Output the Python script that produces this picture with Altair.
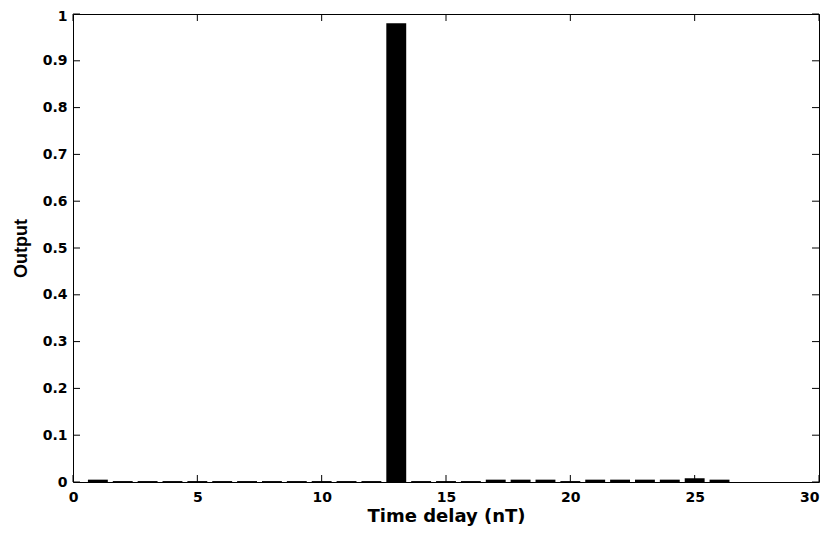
import altair as alt
import pandas as pd

# ---- data ----
delays = list(range(1, 27))
outputs = [0.005, 0.002, 0.002, 0.002, 0.002, 0.002, 0.002, 0.002, 0.002, 0.002,
           0.002, 0.002, 0.98, 0.002, 0.002, 0.002, 0.005, 0.005, 0.005, 0.002,
           0.005, 0.005, 0.005, 0.005, 0.008, 0.005]
x_ticks = [0, 5, 10, 15, 20, 25, 30]
y_ticks = [0, 0.1, 0.2, 0.3, 0.4, 0.5, 0.6, 0.7, 0.8, 0.9, 1]
half_bar = 0.4

W, H = 746, 468
TICK = 7

df = pd.DataFrame({"delay": delays, "output": outputs})
xt_df = pd.DataFrame({"v": x_ticks})
yt_df = pd.DataFrame({"v": y_ticks})

xscale = alt.Scale(domain=[0, 30], nice=False, zero=False)
yscale = alt.Scale(domain=[0, 1], nice=False)

xaxis = alt.Axis(values=x_ticks, title="Time delay (nT)", ticks=False, domain=False,
                 grid=False, labelFont="DejaVu Sans", labelFontWeight="bold",
                 labelFontSize=14, labelColor="black", labelPadding=8,
                 labelAlign={"condition": {"test": "datum.value >= 30", "value": "right"},
                             "value": "center"},
                 titleFont="DejaVu Sans", titleFontWeight="bold", titleFontSize=18,
                 titleColor="black", titlePadding=3, labelFlush=False)
yaxis = alt.Axis(values=y_ticks, title="Output", ticks=False, domain=False,
                 grid=False, format=".1~f", labelFont="DejaVu Sans",
                 labelFontWeight="bold", labelFontSize=14, labelColor="black",
                 labelPadding=6,
                 labelOffset={"condition": {"test": "datum.value >= 1", "value": 2},
                              "value": 0},
                 titleFont="Liberation Sans", titleFontWeight="bold",
                 titleFontSize=18, titleColor="black", titlePadding=12, labelFlush=False)

bars = alt.Chart(df).transform_calculate(
    x0=f"datum.delay - {half_bar}", x1=f"datum.delay + {half_bar}", base="0"
).mark_bar(color="black").encode(
    x=alt.X("x0:Q", scale=xscale, axis=xaxis),
    x2="x1:Q",
    y=alt.Y("output:Q", scale=yscale, axis=yaxis),
    y2="base:Q",
)

xt_bottom = alt.Chart(xt_df).mark_rule(color="black").encode(
    x=alt.X("v:Q", scale=xscale, axis=xaxis), y=alt.value(H), y2=alt.value(H - TICK))
xt_top = alt.Chart(xt_df).mark_rule(color="black").encode(
    x=alt.X("v:Q", scale=xscale, axis=xaxis), y=alt.value(0), y2=alt.value(TICK))
yt_left = alt.Chart(yt_df).mark_rule(color="black").encode(
    y=alt.Y("v:Q", scale=yscale, axis=yaxis), x=alt.value(0), x2=alt.value(TICK))
yt_right = alt.Chart(yt_df).mark_rule(color="black").encode(
    y=alt.Y("v:Q", scale=yscale, axis=yaxis), x=alt.value(W), x2=alt.value(W - TICK))

chart = alt.layer(bars, xt_bottom, xt_top, yt_left, yt_right).properties(
    width=W, height=H,
    autosize=alt.AutoSizeParams(type="none"),
    padding={"left": 65, "top": 6, "right": 2, "bottom": 44},
    background="white",
).configure_view(stroke="black", strokeWidth=1)

chart.save("out.html", embed_options={"renderer": "svg", "actions": False})
